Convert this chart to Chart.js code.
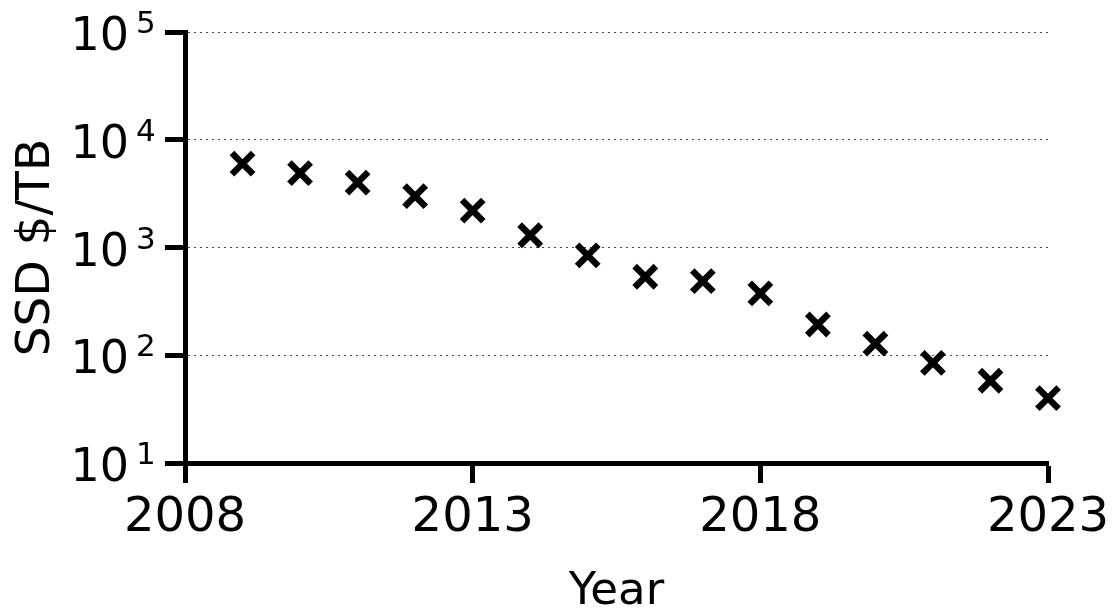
<!DOCTYPE html>
<html>
<head>
<meta charset="utf-8">
<title>SSD price per TB</title>
<script src="https://cdn.jsdelivr.net/npm/chart.js@4.4.1/dist/chart.umd.min.js"></script>
<style>
  html, body { margin: 0; padding: 0; background: #fff; }
  .chart-container { position: relative; width: 1114px; height: 616px; }
</style>
</head>
<body>
<div class="chart-container"><canvas id="chart"></canvas></div>
<script>
const years = [2009, 2010, 2011, 2012, 2013, 2014, 2015, 2016, 2017, 2018, 2019, 2020, 2021, 2022, 2023];
const pricePerTB = [6000, 4900, 4000, 3000, 2200, 1300, 845, 535, 488, 375, 193, 128, 85, 58, 40];

const xTicks = [2008, 2013, 2018, 2023];
const yTicks = [10, 100, 1000, 10000, 100000];
const yTickExponents = ["1", "2", "3", "4", "5"];

const FONT = "'DejaVu Sans', Verdana, sans-serif";

// log tick labels as "10" with a raised exponent
const powerLabels = {
  id: "powerLabels",
  afterDraw(chart) {
    const ctx = chart.ctx;
    const y = chart.scales.y;
    ctx.save();
    ctx.fillStyle = "#000";
    ctx.textBaseline = "alphabetic";
    yTicks.forEach((v, i) => {
      const py = y.getPixelForValue(v);
      ctx.font = "46px " + FONT;
      ctx.textAlign = "right";
      ctx.fillText("10", 129, py + 18);
      ctx.font = "31px " + FONT;
      ctx.textAlign = "left";
      ctx.fillText(yTickExponents[i], 136, py + 1);
    });
    ctx.restore();
  },
};

new Chart(document.getElementById("chart"), {
  type: "scatter",
  data: {
    datasets: [
      {
        label: "SSD $/TB",
        data: years.map((yr, i) => ({ x: yr, y: pricePerTB[i] })),
        pointStyle: "crossRot",
        pointRadius: 15,
        pointHoverRadius: 15,
        borderWidth: 6.5,
        borderColor: "#000",
        backgroundColor: "#000",
        clip: false,
      },
    ],
  },
  options: {
    responsive: true,
    maintainAspectRatio: false,
    animation: false,
    layout: { padding: { top: 32, right: 66, left: 0, bottom: 0 } },
    plugins: {
      legend: { display: false },
      tooltip: { enabled: false },
    },
    scales: {
      x: {
        type: "linear",
        min: 2008,
        max: 2023,
        afterBuildTicks: (scale) => {
          scale.ticks = xTicks.map((v) => ({ value: v }));
        },
        afterFit: (scale) => {
          scale.height = 153;
          // labels may overhang the plot; the outer padding already leaves room
          scale.paddingLeft = 0;
          scale.paddingRight = 0;
        },
        ticks: {
          color: "#000",
          padding: 12,
          maxRotation: 0,
          font: { family: FONT, size: 48, lineHeight: 1 },
          callback: (v) => String(v),
        },
        grid: {
          drawOnChartArea: false,
          drawTicks: true,
          tickLength: 20,
          tickWidth: 5,
          tickColor: "#000",
        },
        border: { display: true, color: "#000", width: 5 },
        title: {
          display: true,
          text: "Year",
          color: "#000",
          padding: { top: 0, bottom: 1 },
          font: { family: FONT, size: 45, lineHeight: 1 },
        },
      },
      y: {
        type: "logarithmic",
        min: 10,
        max: 100000,
        afterBuildTicks: (scale) => {
          scale.ticks = yTicks.map((v) => ({ value: v }));
        },
        afterFit: (scale) => {
          scale.width = 185;
        },
        ticks: { display: false },
        grid: {
          drawOnChartArea: true,
          color: "#444",
          lineWidth: 1,
          drawTicks: true,
          tickLength: 20,
          tickWidth: 5,
          tickColor: "#000",
          tickBorderDash: [],
        },
        border: { display: true, color: "#000", width: 5, dash: [2, 4] },
        title: {
          display: true,
          text: "SSD $/TB",
          color: "#000",
          padding: { top: 13, bottom: 0 },
          font: { family: FONT, size: 47, lineHeight: 1 },
        },
      },
    },
  },
  plugins: [powerLabels],
});
</script>
</body>
</html>
